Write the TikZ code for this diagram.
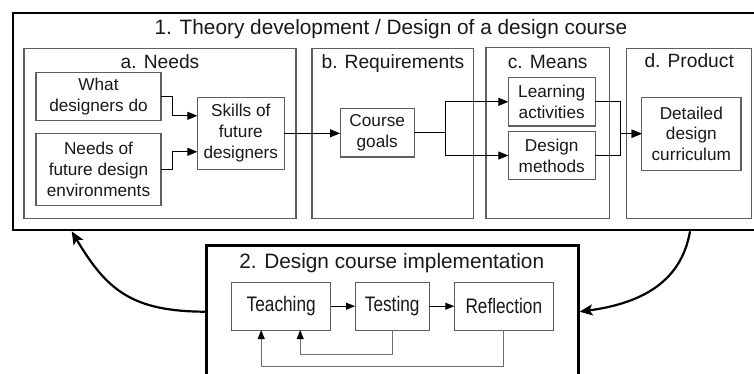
\documentclass[tikz,border=0pt]{standalone}
\usepackage{fontspec}
\setmainfont{Liberation Sans}
\newfontfamily\narrowfont[FakeStretch=0.82]{Liberation Sans}
\usetikzlibrary{arrows.meta}
\definecolor{boxgray}{RGB}{95,95,95}
\definecolor{txt}{RGB}{25,25,25}
\definecolor{fbgray}{RGB}{110,110,110}
\begin{document}
\begin{tikzpicture}[x=1pt,y=-1pt,
  frame/.style={draw=black, line width=2.6pt, inner sep=0pt, outer sep=0pt},
  section/.style={draw=boxgray, line width=1.1pt, inner sep=0pt, outer sep=0pt},
  item/.style={draw=boxgray, line width=1.1pt, inner sep=0pt, outer sep=0pt, align=center,
    text=txt, font=\fontsize{17.2}{20.8}\selectfont},
  bitem/.style={draw=boxgray, line width=1.1pt, inner sep=0pt, outer sep=0pt, align=center,
    text=txt, font=\narrowfont\fontsize{21}{24}\selectfont, minimum height=47.7pt},
  seclabel/.style={anchor=base, inner sep=0pt, text=txt, font=\fontsize{19.2}{22}\selectfont},
  titlelabel/.style={anchor=base, inner sep=0pt, text=txt, font=\fontsize{20.8}{24}\selectfont},
  arr/.style={-{Triangle[length=10pt,width=8pt]}, line width=1pt, draw=black},
  sarr/.style={-{Triangle[length=9pt,width=7pt]}, line width=1pt, draw=black},
  fbarr/.style={-{Triangle[length=9pt,width=7pt,color=black,fill=black]}, line width=1pt, draw=fbgray},
  bigarr/.style={-{Stealth[length=13pt,width=11pt,inset=3pt]}, line width=2.2pt, draw=black}
]
\clip (0,0) rectangle (754,373);
\fill[white] (0,0) rectangle (754,373);

% Box 1
\node[frame, minimum width=747pt, minimum height=217pt] (box1) at (386.5,121.5) {};
\node[titlelabel] (title1) at (390.9,34.3) {1. Theory development / Design of a design course};

\node[section, minimum width=272pt, minimum height=169.5pt] (secA) at (160,133.5) {};
\node[section, minimum width=161.7pt, minimum height=170.5pt] (secB) at (392.85,133.5) {};
\node[section, minimum width=123.3pt, minimum height=171pt] (secC) at (547.65,133) {};
\node[section, minimum width=125pt, minimum height=170pt] (secD) at (689.2,133.3) {};

\node[seclabel] (labA) at (160,68.3) {a. Needs};
\node[seclabel] (labB) at (392.9,68.3) {b. Requirements};
\node[seclabel] (labC) at (547.7,68.3) {c. Means};
\node[seclabel] (labD) at (689.2,67.7) {d. Product};

\node[item, minimum width=125pt, minimum height=48pt] (wdd) at (98.5,96.7) {What\\designers do};
\node[item, minimum width=125pt, minimum height=72.4pt] (needs) at (98.5,169.5) {Needs of\\future design\\environments};
\node[item, minimum width=87pt, minimum height=72pt] (skills) at (240.8,133.3) {Skills of\\future\\designers};
\node[item, minimum width=74.3pt, minimum height=48.4pt] (goals) at (377.2,132.8) {Course\\goals};
\node[item, minimum width=86.7pt, minimum height=48.3pt] (learn) at (551.7,101.8) {Learning\\activities};
\node[item, minimum width=86.7pt, minimum height=47.6pt] (methods) at (551.7,155.5) {Design\\methods};
\node[item, minimum width=99.3pt, minimum height=72.7pt] (detail) at (691.3,133.7) {Detailed\\design\\curriculum};

\draw[arr] (wdd.east) -- ++(11.3,0) |- ([yshift=17.5pt]skills.west);
\draw[arr] (needs.east) -- ++(11.3,0) |- ([yshift=-18.5pt]skills.west);
\draw[arr] (skills.east) -- (skills.east -| goals.west);
\draw[arr] (goals.east) -- ++(31.4,0) |- (learn.west);
\draw[arr] (goals.east) -- ++(31.4,0) |- (methods.west);
\draw[arr] (learn.east) -- ++(25,0) |- (detail.west);
\draw[arr] (methods.east) -- ++(25,0) |- (detail.west);

% Box 2
\node[frame, minimum width=371.6pt, minimum height=154.3pt] (box2) at (392.5,322.85) {};
\node[titlelabel] (title2) at (391.7,268) {2. Design course implementation};

\node[bitem, minimum width=99pt] (teach) at (281.2,306.2) {Teaching};
\node[bitem, minimum width=74.3pt] (test) at (392.2,306.2) {Testing};
\node[bitem, minimum width=99pt] (refl) at (503.8,306.2) {Reflection};

\draw[sarr] (teach.east) -- (test.west);
\draw[sarr] (test.east) -- (refl.west);
\draw[fbarr] (test.south) -- ++(0,24.3) -| ([xshift=19pt]teach.south);
\draw[fbarr] (refl.south) -- ++(0,36.7) -| ([xshift=-20pt]teach.south);

% Loop arrows
\coordinate (ls) at (box2.west |- 0,311.7);
\coordinate (le) at (box1.south -| 71.7,0);
\coordinate (rs) at (box1.south -| 690,0);
\coordinate (re) at (box2.east |- 0,311.7);
\draw[bigarr] (ls) .. controls ([xshift=-75pt]ls) and ([xshift=35pt,yshift=-60pt]le) .. ([yshift=-1.3pt]le);
\draw[bigarr] ([yshift=-1.3pt]rs) .. controls ([xshift=-9pt,yshift=-54pt]rs) and ([xshift=60pt,yshift=8pt]re) .. ([xshift=1.3pt]re);
\end{tikzpicture}
\end{document}
